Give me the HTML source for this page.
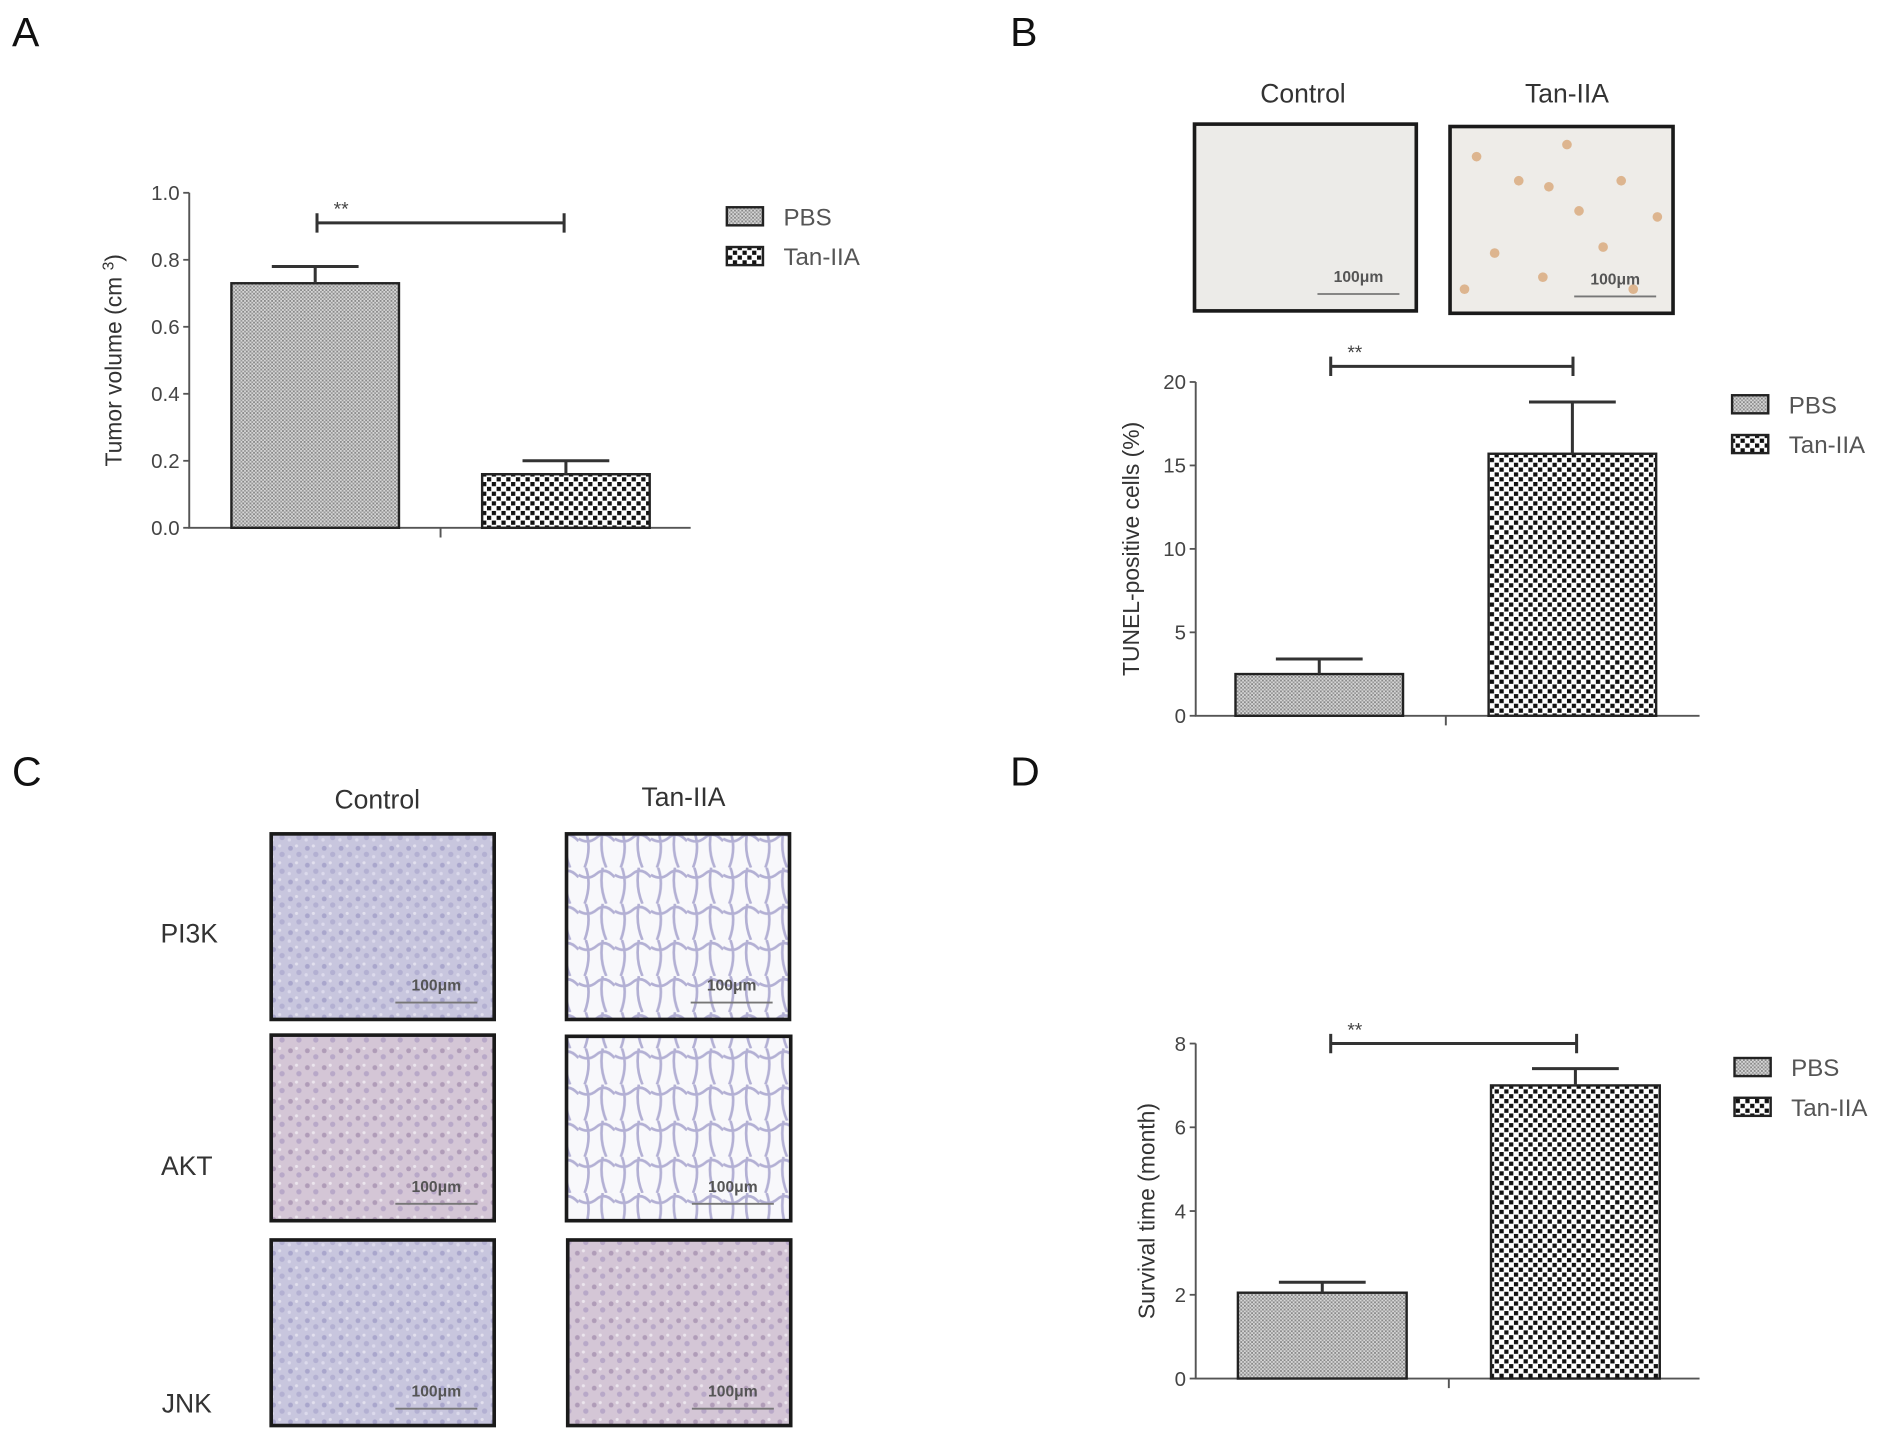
<!DOCTYPE html>
<html><head><meta charset="utf-8"><style>
html,body{margin:0;padding:0;background:#fff;width:1890px;height:1440px;overflow:hidden}
svg{display:block}
text{font-family:"Liberation Sans",sans-serif}
</style></head><body>
<svg id="fig" width="1890" height="1440" viewBox="0 0 1568 1195" preserveAspectRatio="none" xmlns="http://www.w3.org/2000/svg">
<defs>
<pattern id="pbs" width="3" height="3" patternUnits="userSpaceOnUse"><rect width="3" height="3" fill="#d6d6d6"/><rect width="1.5" height="1.5" fill="#888"/><rect x="1.5" y="1.5" width="1.5" height="1.5" fill="#999"/></pattern>
<pattern id="tan" width="8" height="8" patternUnits="userSpaceOnUse"><rect width="8" height="8" fill="#fff"/><rect width="3.5" height="3.5" fill="#111"/><rect x="4" y="4" width="3.5" height="3.5" fill="#111"/></pattern>
<pattern id="tissueA" width="14" height="14" patternUnits="userSpaceOnUse"><rect width="14" height="14" fill="#c8c6de"/><circle cx="3" cy="4" r="2" fill="#a9a6cc"/><circle cx="10" cy="9" r="2.2" fill="#b3b0d2"/><circle cx="8" cy="2" r="1.3" fill="#e2e0ee"/><circle cx="2" cy="11" r="1.4" fill="#dcdaec"/></pattern>
<pattern id="tissueB" width="30" height="30" patternUnits="userSpaceOnUse"><rect width="30" height="30" fill="#f8f8fb"/><path d="M0 6 Q8 11 15 5 T30 8 M6 0 Q11 14 5 30 M20 0 Q17 16 23 30" stroke="#b3b0d4" stroke-width="2.2" fill="none"/></pattern>
<pattern id="tissueC" width="14" height="14" patternUnits="userSpaceOnUse"><rect width="14" height="14" fill="#d4c6d6"/><circle cx="3" cy="4" r="2" fill="#b09cb8"/><circle cx="10" cy="9" r="2.2" fill="#b8a8c8"/><circle cx="8" cy="2" r="1.3" fill="#ece6ee"/></pattern>
</defs>
<g id="panels"></g>
</svg>
<script>
// Panel A data
const catsA = ["PBS","Tan-IIA"];
const valsA = [0.73, 0.16];
const errA = [0.78, 0.20];
const ticksA = [0.0,0.2,0.4,0.6,0.8,1.0];
const tickLabA = ["0.0","0.2","0.4","0.6","0.8","1.0"];
// Panel B data
const catsB = ["PBS","Tan-IIA"];
const valsB = [2.5, 15.7];
const errB = [3.4, 18.8];
const ticksB = [0,5,10,15,20];
const tickLabB = ["0","5","10","15","20"];
// Panel D data
const catsD = ["PBS","Tan-IIA"];
const valsD = [2.05, 7.0];
const errD = [2.3, 7.4];
const ticksD = [0,2,4,6,8];
const tickLabD = ["0","2","4","6","8"];

const NS="http://www.w3.org/2000/svg";
const root=document.getElementById('panels');
function mk(tag,at,parent,txt){const e=document.createElementNS(NS,tag);for(const k in at)e.setAttribute(k,at[k]);if(txt!==undefined)e.textContent=txt;(parent||root).appendChild(e);return e;}

function chart(o){
  const g=mk('g',{});
  
  
  const y=v=>o.y0-(v-o.min)/(o.max-o.min)*(o.y0-o.y1);
  const ax=mk('path',{d:`M${o.ax} ${o.y1}V${o.y0}H${o.xEnd}M${(o.bx[0]+o.bx[1]+o.bw)/2} ${o.y0}v8`,stroke:'#555','stroke-width':1.6,fill:'none'},g);
  
  
  o.ticks.forEach((t,i)=>{
    mk('line',{x1:o.ax-5,x2:o.ax,y1:y(t),y2:y(t),stroke:'#555','stroke-width':1.5},g);
    const tl=mk('text',{x:o.ax-8,y:y(t)+6,'text-anchor':'end','font-size':17,fill:'#444'},g,o.tickLab[i]);
    
    
  });
  const yt=mk('text',{transform:`translate(${o.titleX},${(o.y0+o.y1)/2}) rotate(-90)`,'text-anchor':'middle','font-size':19,fill:'#333'},g,o.title);
  
  
  if(o.sup){mk('tspan',{dy:-7,'font-size':13},yt,o.sup);mk('tspan',{dy:7},yt,')');}
  o.vals.forEach((v,i)=>{
    const x=o.bx[i];
    const b=mk('rect',{x:x,y:y(v),width:o.bw,height:o.y0-y(v),fill:i?'url(#tan)':'url(#pbs)',stroke:'#222','stroke-width':2},g);
    
    
    const cx=x+o.bw/2;
    const e=mk('path',{d:`M${cx} ${y(v)}V${y(o.err[i])}M${cx-36} ${y(o.err[i])}H${cx+36}`,stroke:'#333','stroke-width':2.5,fill:'none'},g);
    
    
  });
  const br=mk('path',{d:`M${o.br[0]} ${o.brY-8}v16M${o.br[0]} ${o.brY}H${o.br[1]}M${o.br[1]} ${o.brY-8}v16`,stroke:'#333','stroke-width':2.5,fill:'none'},g);
  
  
  const st=mk('text',{x:o.br[0]+20,y:o.brY-6,'text-anchor':'middle','font-size':16,fill:'#444'},g,'**');
  
  
  o.cats.forEach((c,i)=>{
    const ly=o.legY+i*33;
    const lg=mk('g',{},g);
    
    
    mk('rect',{x:o.legX,y:ly,width:30,height:15,fill:i?'url(#tan)':'url(#pbs)',stroke:'#222','stroke-width':2},lg);
    mk('text',{x:o.legX+47,y:ly+15,'font-size':20,fill:'#555'},lg,c);
  });
}
chart({name:'tumor-volume-chart',cats:catsA,vals:valsA,err:errA,ticks:ticksA,tickLab:tickLabA,min:0,max:1,ax:157,y0:438,y1:160,xEnd:573,bx:[192,400],bw:139,title:'Tumor volume  (cm ',sup:'3',titleX:101,br:[263,468],brY:185,legX:603,legY:172});
chart({name:'tunel-chart',cats:catsB,vals:valsB,err:errB,ticks:ticksB,tickLab:tickLabB,min:0,max:20,ax:992,y0:594,y1:317,xEnd:1410,bx:[1025,1235],bw:139,title:'TUNEL-positive cells (%)',titleX:945,br:[1104,1305],brY:304,legX:1437,legY:328});
chart({name:'survival-chart',cats:catsD,vals:valsD,err:errD,ticks:ticksD,tickLab:tickLabD,min:0,max:8,ax:992,y0:1144,y1:866,xEnd:1410,bx:[1027,1237],bw:140,title:'Survival time (month)',titleX:958,br:[1104,1308],brY:866,legX:1439,legY:878});

// panel letters
[['A',10,38],['B',838,38],['C',10,652],['D',838,652]].forEach(p=>{
  const t=mk('text',{x:p[1],y:p[2],'font-size':34,fill:'#111'},root,p[0]);
  
  
});
function img(x,y,w,h,fill,name,extra){
  const g=mk('g',{});
  
  
  mk('rect',{x:x,y:y,width:w,height:h,fill:fill,stroke:'#1a1a1a','stroke-width':3},g);
  if(extra)extra(g);
  mk('text',{x:x+w-48,y:y+h-24,'text-anchor':'middle','font-size':13,'font-weight':'bold',fill:'#555'},g,'100μm');
  mk('line',{x1:x+w-82,x2:x+w-14,y1:y+h-14,y2:y+h-14,stroke:'#777','stroke-width':1.5},g);
}
function lbl(x,y,s,name,sz){const t=mk('text',{x:x,y:y,'text-anchor':'middle','font-size':sz||22,fill:'#333'},root,s);}
// B images
lbl(1081,85,'Control','tunel-control-label');lbl(1300,85,'Tan-IIA','tunel-tan-label');
img(991,103,184,155,'#ecebe8','tunel-control-image');
img(1203,105,185,155,'#eeece8','tunel-tan-image',g=>{
  [[1225,130],[1260,150],[1285,155],[1300,120],[1310,175],[1240,210],[1330,205],[1355,240],[1375,180],[1280,230],[1215,240],[1345,150]].forEach(p=>mk('circle',{cx:p[0],cy:p[1],r:4,fill:'#d8a878',opacity:.8},g));
});
// C images
lbl(313,671,'Control','ihc-control-label');lbl(567,669,'Tan-IIA','ihc-tan-label');
lbl(157,782,'PI3K','row-pi3k');lbl(155,975,'AKT','row-akt');lbl(155,1172,'JNK','row-jnk');
img(225,692,185,154,'url(#tissueA)','pi3k-control');
img(470,692,185,154,'url(#tissueB)','pi3k-tan');
img(225,859,185,154,'url(#tissueC)','akt-control');
img(470,860,186,153,'url(#tissueB)','akt-tan');
img(225,1029,185,154,'url(#tissueA)','jnk-control');
img(471,1029,185,154,'url(#tissueC)','jnk-tan');
</script>
</body></html>
